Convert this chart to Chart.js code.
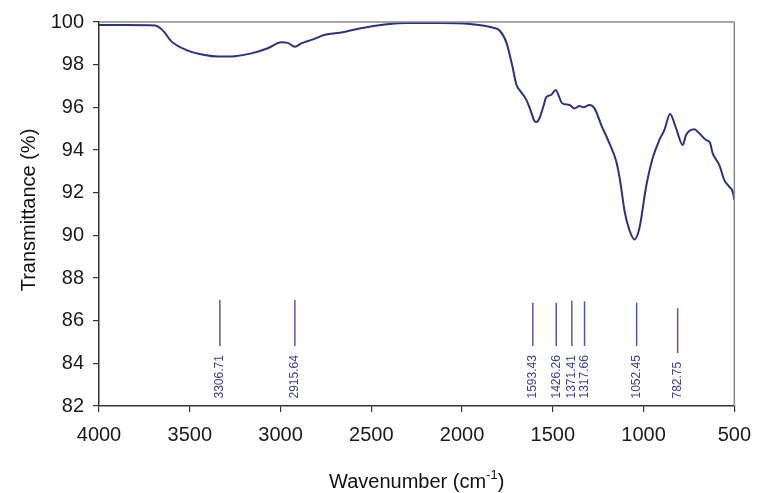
<!DOCTYPE html>
<html>
<head>
<meta charset="utf-8">
<script src="https://cdn.jsdelivr.net/npm/chart.js@4"></script>
<style>
  html, body { margin: 0; padding: 0; background: #fff; }
  #wrap { width: 762px; height: 493px; }
</style>
</head>
<body>
<div id="wrap"><canvas id="irChart" width="762" height="493"></canvas></div>
<script>
// FTIR spectrum
const wavenumbers = [4000, 3850, 3692, 3650, 3600, 3510, 3417, 3345, 3252, 3160, 3070, 2995, 2960, 2921, 2885, 2829,
  2756, 2657, 2564, 2415, 2305, 2123, 1958, 1832, 1793, 1755, 1722, 1700, 1683, 1645, 1623, 1601, 1590, 1573,
  1550, 1536, 1509, 1485, 1448, 1408, 1380, 1353, 1331, 1298, 1270, 1233, 1188, 1150, 1128, 1105, 1078, 1050,
  1023, 986, 950, 913, 885, 854, 821, 784, 766, 720, 693, 656, 634, 619, 583, 555, 528, 509, 500];
const transmittance = [99.86, 99.86, 99.84, 99.62, 99.08, 98.66, 98.45, 98.38, 98.40, 98.53, 98.77, 99.05, 99.02, 98.84, 99.00, 99.16,
  99.40, 99.52, 99.70, 99.89, 99.95, 99.95, 99.91, 99.74, 99.60, 99.02, 97.90, 97.05, 96.81, 96.34, 95.87, 95.36, 95.31, 95.50,
  96.10, 96.48, 96.58, 96.81, 96.19, 96.11, 95.95, 96.06, 96.00, 96.11, 95.95, 95.17, 94.31, 93.45, 92.50, 91.15, 90.25, 89.81,
  90.33, 92.28, 93.61, 94.47, 94.94, 95.69, 95.02, 94.23, 94.70, 94.97, 94.78, 94.47, 94.34, 93.84, 93.30, 92.59, 92.28, 92.05, 91.66];

// peak markers: where the marker is drawn, its label, and its ends
const peakLabels = ["3306.71", "2915.64", "1593.43", "1426.26", "1371.41", "1317.66", "1052.45", "782.75"];
const peakPos = [3334, 2921, 1610, 1481, 1395, 1325, 1038, 812];
const peakTop = [86.97, 86.97, 86.84, 86.84, 86.93, 86.91, 86.84, 86.58];
const peakBottom = [84.81, 84.81, 84.81, 84.81, 84.81, 84.81, 84.81, 84.48];
const peakLabelBase = 82.35;

const xTicks = [4000, 3500, 3000, 2500, 2000, 1500, 1000, 500];
const yTicks = [82, 84, 86, 88, 90, 92, 94, 96, 98, 100];

const FONT = "'Liberation Sans', Arial, sans-serif";

const spectrum = wavenumbers.map((w, i) => ({x: w, y: transmittance[i]}));
const markers = [];
peakPos.forEach((w, i) => {
  markers.push({x: w, y: peakTop[i]}, {x: w, y: peakBottom[i]}, {x: w, y: null});
});

const extras = {
  id: 'extras',
  afterDraw(chart) {
    const c = chart.ctx, a = chart.chartArea;
    const xs = chart.scales.x, ys = chart.scales.y;
    c.save();
    // frame on top and right
    c.strokeStyle = '#8a8a8a';
    c.lineWidth = 1.5;
    c.beginPath();
    c.moveTo(a.left, a.top);
    c.lineTo(a.right, a.top);
    c.lineTo(a.right, a.bottom);
    c.stroke();

    // peak labels
    c.fillStyle = '#3c3ca2';
    c.font = '12px ' + FONT;
    c.textAlign = 'left';
    c.textBaseline = 'middle';
    peakLabels.forEach((t, i) => {
      c.save();
      c.translate(xs.getPixelForValue(peakPos[i]), ys.getPixelForValue(peakLabelBase));
      c.rotate(-Math.PI / 2);
      c.fillText(t, 0, 0);
      c.restore();
    });

    // axis titles
    c.fillStyle = '#111';
    c.font = '20px ' + FONT;
    c.save();
    c.translate(35, 210);
    c.rotate(-Math.PI / 2);
    c.textAlign = 'center';
    c.textBaseline = 'alphabetic';
    c.fillText('Transmittance (%)', 0, 0);
    c.restore();

    const main = 'Wavenumber (cm', sup = '-1', tail = ')';
    c.font = '20px ' + FONT;
    const w1 = c.measureText(main).width, w3 = c.measureText(tail).width;
    c.font = '13px ' + FONT;
    const w2 = c.measureText(sup).width;
    let x0 = (a.left + a.right) / 2 - (w1 + w2 + w3) / 2;
    const base = 488;
    c.textAlign = 'left';
    c.textBaseline = 'alphabetic';
    c.font = '20px ' + FONT;
    c.fillText(main, x0, base);
    c.font = '13px ' + FONT;
    c.fillText(sup, x0 + w1, base - 9);
    c.font = '20px ' + FONT;
    c.fillText(tail, x0 + w1 + w2, base);
    c.restore();
  }
};

new Chart(document.getElementById('irChart').getContext('2d'), {
  type: 'line',
  data: {
    datasets: [{
      data: spectrum,
      borderColor: '#2f2f88',
      borderWidth: 2,
      pointRadius: 0,
      cubicInterpolationMode: 'monotone',
      fill: false
    }, {
      data: markers,
      borderColor: '#5656ac',
      borderWidth: 1.5,
      pointRadius: 0,
      tension: 0,
      spanGaps: false,
      fill: false
    }]
  },
  options: {
    responsive: false,
    animation: false,
    events: [],
    layout: { padding: { top: 22, right: 27, left: 0, bottom: 0 } },
    plugins: { legend: { display: false }, tooltip: { enabled: false } },
    scales: {
      x: {
        type: 'linear',
        reverse: true,
        min: 500,
        max: 4000,
        afterFit(s) { s.height = 87; },
        afterBuildTicks(s) { s.ticks = xTicks.map(v => ({value: v})); },
        grid: { drawOnChartArea: false, drawTicks: true, tickLength: 6, color: '#333', lineWidth: 1.2 },
        border: { display: true, color: '#333', width: 1.5 },
        ticks: { color: '#1a1a1a', font: { family: FONT, size: 20 }, padding: 11, maxRotation: 0, autoSkip: false,
          callback: v => String(v) }
      },
      y: {
        min: 82,
        max: 100,
        afterFit(s) { s.width = 99; },
        afterBuildTicks(s) { s.ticks = yTicks.map(v => ({value: v})); },
        grid: { drawOnChartArea: false, drawTicks: true, tickLength: 6, color: '#333', lineWidth: 1.2 },
        border: { display: true, color: '#333', width: 1.5 },
        ticks: { color: '#1a1a1a', font: { family: FONT, size: 20 }, padding: 9, autoSkip: false,
          callback: v => String(v) }
      }
    }
  },
  plugins: [extras]
});
</script>
</body>
</html>
